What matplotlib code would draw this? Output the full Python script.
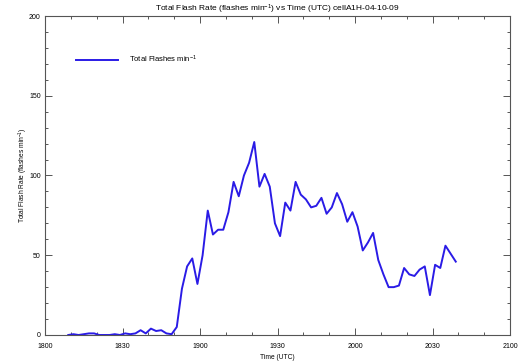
import numpy as np
import matplotlib
matplotlib.use("Agg")
from matplotlib import pyplot as plt
from matplotlib.ticker import MultipleLocator

# minutes after 1800 UTC, one sample every 2 minutes
minutes = np.arange(9, 160, 2)
flash_rate = [
    0, 0.5, 0, 0.5, 1, 1, 0, 0, 0, 0.5, 0,
    1, 0.5, 1, 3, 1, 4, 2.5, 3, 1, 0.5, 5,
    29, 43, 48, 32, 50, 78, 63, 66, 66, 77,
    96, 87, 100, 108, 121, 93, 101, 93, 70, 62,
    83, 78, 96, 88, 85, 80, 81, 86, 76, 80,
    89, 82, 71, 77, 68, 53, 58, 64, 47, 38,
    30, 30, 31, 42, 38, 37, 41, 43, 25, 44,
    42, 56, 51, 46,
]
tick_pos = [0, 30, 60, 90, 120, 150, 180]
tick_labels = ['1800', '1830', '1900', '1930', '2000', '2030', '2100']

plt.rcParams['font.family'] = ['Liberation Sans', 'DejaVu Sans']
plt.rcParams['mathtext.fontset'] = 'custom'
plt.rcParams['mathtext.rm'] = 'Liberation Sans'
plt.rcParams['mathtext.it'] = 'Liberation Sans:italic'
plt.rcParams['mathtext.bf'] = 'Liberation Sans:bold'
line_c = '#2a1be6'
axis_c = '#555555'

fig = plt.figure(figsize=(5.18, 3.62), dpi=100)
ax = fig.add_axes([0.0869, 0.0746, 0.8977, 0.8812])

ax.plot(minutes, flash_rate, color=line_c, lw=1.4, label=r'Total Flashes min$^{\mathrm{-1}}$')

ax.set_xlim(0, 180)
ax.set_ylim(0, 200)
ax.set_xticks(tick_pos)
ax.set_xticklabels(tick_labels)
ax.set_yticks([0, 50, 100, 150, 200])
ax.xaxis.set_minor_locator(MultipleLocator(10))
ax.yaxis.set_minor_locator(MultipleLocator(10))
ax.tick_params(which='both', direction='in', top=True, right=True,
               color=axis_c, labelsize=5, width=0.7)
ax.tick_params(which='major', length=5)
ax.tick_params(which='minor', length=2.5)
ax.tick_params(axis='x', which='major', pad=6)
ax.tick_params(axis='y', which='major', pad=3)
for s in ax.spines.values():
    s.set_color(axis_c)
    s.set_linewidth(0.8)

ax.set_title(r'Total Flash Rate (flashes min$^{\mathrm{-1}}$) vs Time (UTC) cellA1H-04-10-09',
             fontsize=6, pad=2)
ax.set_xlabel('Time (UTC)', fontsize=4.8, labelpad=3)
ax.set_ylabel(r'Total Flash Rate (flashes min$^{\mathrm{-1}}$)', fontsize=4.8, labelpad=-1)

ax.legend(loc='center left', bbox_to_anchor=(0.0667, 0.865), frameon=False,
          borderpad=0, borderaxespad=0,
          fontsize=5.5, handlelength=5.5, handletextpad=1.4)

plt.savefig('out.png', dpi=100)
